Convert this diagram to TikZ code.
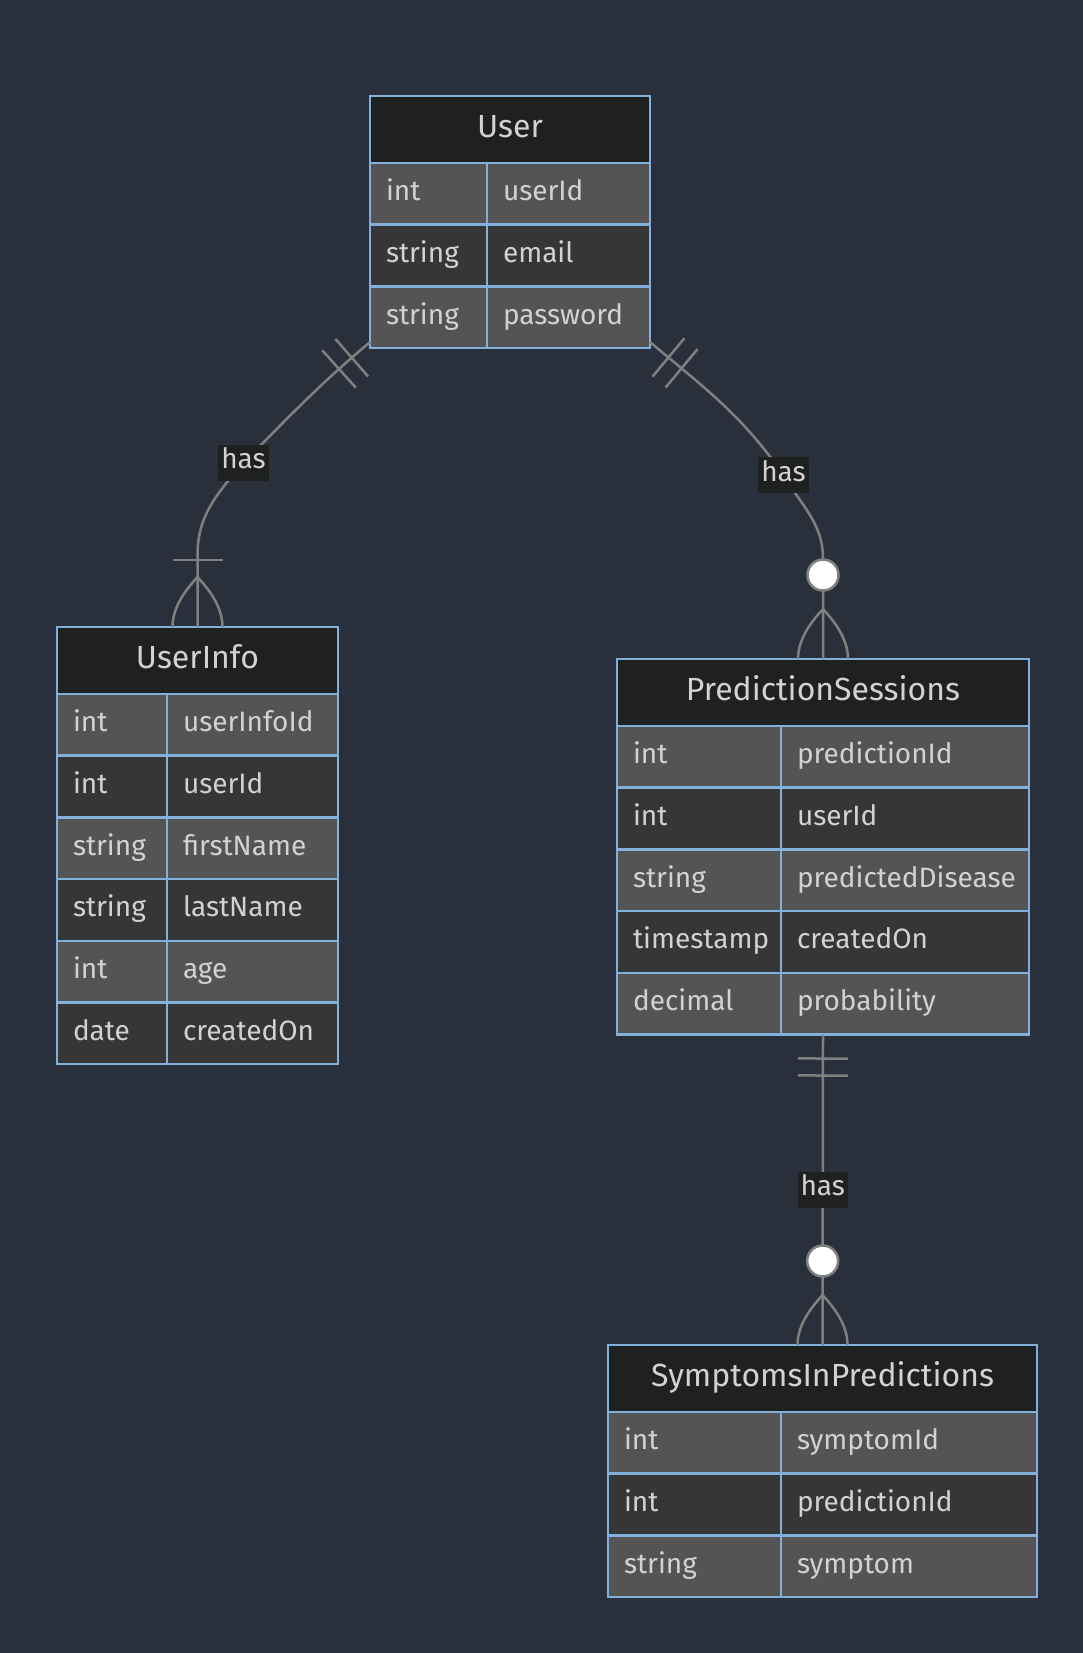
\documentclass[tikz,border=0pt]{standalone}
\usepackage{fontspec}
\setmainfont{Fira Sans}
\usepackage{tikz}
\usetikzlibrary{positioning,decorations.markings}
\hyphenpenalty=10000
\exhyphenpenalty=10000
\definecolor{bgcol}{RGB}{42,47,60}
\definecolor{headcol}{RGB}{31,32,32}
\definecolor{litecol}{RGB}{84,84,84}
\definecolor{darkcol}{RGB}{54,54,54}
\definecolor{edgecol}{RGB}{129,177,219}
\definecolor{txtcol}{RGB}{210,210,210}
\definecolor{conncol}{RGB}{128,128,128}
\newcommand{\ermrow}{\fontsize{28}{34}\selectfont}
\newcommand{\ermhead}{\fontsize{32}{38}\selectfont}
\tikzstyle{ehead} = [rectangle, draw=edgecol, line width=2.5pt, fill=headcol, outer sep=0pt, minimum height=67pt, text=txtcol, font=\ermhead, text height=23pt, text depth=7pt]
\tikzstyle{cell} = [rectangle, draw=edgecol, line width=2.5pt, outer sep=0pt, inner xsep=16pt, minimum height=61.7pt, text=txtcol, font=\ermrow, text height=21pt, text depth=7pt, align=left]
\tikzstyle{lrow} = [cell, fill=litecol]
\tikzstyle{drow} = [cell, fill=darkcol]
\tikzstyle{rel} = [draw=conncol, line width=2.5pt]
\tikzstyle{markline} = [draw=conncol, line width=2.5pt]
\tikzstyle{lbl} = [fill=headcol, text=txtcol, font=\ermrow, inner xsep=3pt, inner ysep=3pt, text height=21pt, text depth=9pt]
\tikzstyle{onlyone} = [postaction={decorate, decoration={markings,
    mark=at position 24pt with {\draw [markline] (0,-25pt) -- (0,25pt);},
    mark=at position 41pt with {\draw [markline] (0,-25pt) -- (0,25pt);}}}]
\tikzstyle{onemany} = [postaction={decorate, decoration={markings,
    mark=at position -67pt with {\draw [markline] (0,-25pt) -- (0,25pt);},
    mark=at position -50pt with {\draw [markline] (0,0) .. controls (10pt,9pt) and (28pt,25pt) .. (50pt,25pt) (0,0) .. controls (10pt,-9pt) and (28pt,-25pt) .. (50pt,-25pt);}}}]
\tikzstyle{zeromany} = [postaction={decorate, decoration={markings,
    mark=at position -84pt with {\draw [markline, fill=white] (0,0) circle (15.5pt);},
    mark=at position -50pt with {\draw [markline] (0,0) .. controls (10pt,9pt) and (28pt,25pt) .. (50pt,25pt) (0,0) .. controls (10pt,-9pt) and (28pt,-25pt) .. (50pt,-25pt);}}}]

\begin{document}
\begin{tikzpicture}[x=1pt, y=1pt]

\fill [bgcol] (0,0) rectangle (1083,-1653);
\useasboundingbox (0,0) rectangle (1083,-1653);

\node (user) [ehead, minimum width=280pt, anchor=north west] at (370,-96) {User};
\node (user1t) [lrow, text width=85pt, below=0pt of user.south west, anchor=north west] {int};
\node (user1n) [lrow, text width=131pt, right=0pt of user1t] {userId};
\node (user2t) [drow, text width=85pt, below=0pt of user1t] {string};
\node (user2n) [drow, text width=131pt, right=0pt of user2t] {email};
\node (user3t) [lrow, text width=85pt, below=0pt of user2t] {string};
\node (user3n) [lrow, text width=131pt, right=0pt of user3t] {password};

\node (uinfo) [ehead, minimum width=281pt, anchor=north west] at (57,-627) {UserInfo};
\node (uinfo1t) [lrow, text width=78pt, below=0pt of uinfo.south west, anchor=north west] {int};
\node (uinfo1n) [lrow, text width=139pt, right=0pt of uinfo1t] {userInfoId};
\node (uinfo2t) [drow, text width=78pt, below=0pt of uinfo1t] {int};
\node (uinfo2n) [drow, text width=139pt, right=0pt of uinfo2t] {userId};
\node (uinfo3t) [lrow, text width=78pt, below=0pt of uinfo2t] {string};
\node (uinfo3n) [lrow, text width=139pt, right=0pt of uinfo3t] {firstName};
\node (uinfo4t) [drow, text width=78pt, below=0pt of uinfo3t] {string};
\node (uinfo4n) [drow, text width=139pt, right=0pt of uinfo4t] {lastName};
\node (uinfo5t) [lrow, text width=78pt, below=0pt of uinfo4t] {int};
\node (uinfo5n) [lrow, text width=139pt, right=0pt of uinfo5t] {age};
\node (uinfo6t) [drow, text width=78pt, below=0pt of uinfo5t] {date};
\node (uinfo6n) [drow, text width=139pt, right=0pt of uinfo6t] {createdOn};

\node (pred) [ehead, minimum width=412pt, anchor=north west] at (617,-659) {PredictionSessions};
\node (pred1t) [lrow, text width=132pt, below=0pt of pred.south west, anchor=north west] {int};
\node (pred1n) [lrow, text width=216pt, right=0pt of pred1t] {predictionId};
\node (pred2t) [drow, text width=132pt, below=0pt of pred1t] {int};
\node (pred2n) [drow, text width=216pt, right=0pt of pred2t] {userId};
\node (pred3t) [lrow, text width=132pt, below=0pt of pred2t] {string};
\node (pred3n) [lrow, text width=216pt, right=0pt of pred3t] {predictedDisease};
\node (pred4t) [drow, text width=132pt, below=0pt of pred3t] {timestamp};
\node (pred4n) [drow, text width=216pt, right=0pt of pred4t] {createdOn};
\node (pred5t) [lrow, text width=132pt, below=0pt of pred4t] {decimal};
\node (pred5n) [lrow, text width=216pt, right=0pt of pred5t] {probability};
\coordinate (predbot) at (pred.north |- pred5t.south);

\node (symp) [ehead, minimum width=429pt, anchor=north west] at (608,-1345) {SymptomsInPredictions};
\node (symp1t) [lrow, text width=141pt, below=0pt of symp.south west, anchor=north west] {int};
\node (symp1n) [lrow, text width=224pt, right=0pt of symp1t] {symptomId};
\node (symp2t) [drow, text width=141pt, below=0pt of symp1t] {int};
\node (symp2n) [drow, text width=224pt, right=0pt of symp2t] {predictionId};
\node (symp3t) [lrow, text width=141pt, below=0pt of symp2t] {string};
\node (symp3n) [lrow, text width=224pt, right=0pt of symp3t] {symptom};

\coordinate (via1) at (243.5,-462.5);
\draw [rel, onlyone, onemany] ([yshift=6pt]user3t.south west) to[out=220,in=45] (via1) to[out=230,in=90] ([yshift=72pt]uinfo.north) -- (uinfo.north);
\node (has1) [lbl] at (via1) {has};

\coordinate (via2) at (783.5,-475);
\draw [rel, onlyone, zeromany] ([yshift=6pt]user3n.south east) to[out=-40,in=125] (via2) to[out=-60,in=90] ([yshift=100pt]pred.north) -- (pred.north);
\node (has2) [lbl] at (via2) {has};

\draw [rel, onlyone, zeromany] (predbot) -- node (has3) [lbl] {has} (symp.north);

\end{tikzpicture}
\end{document}
